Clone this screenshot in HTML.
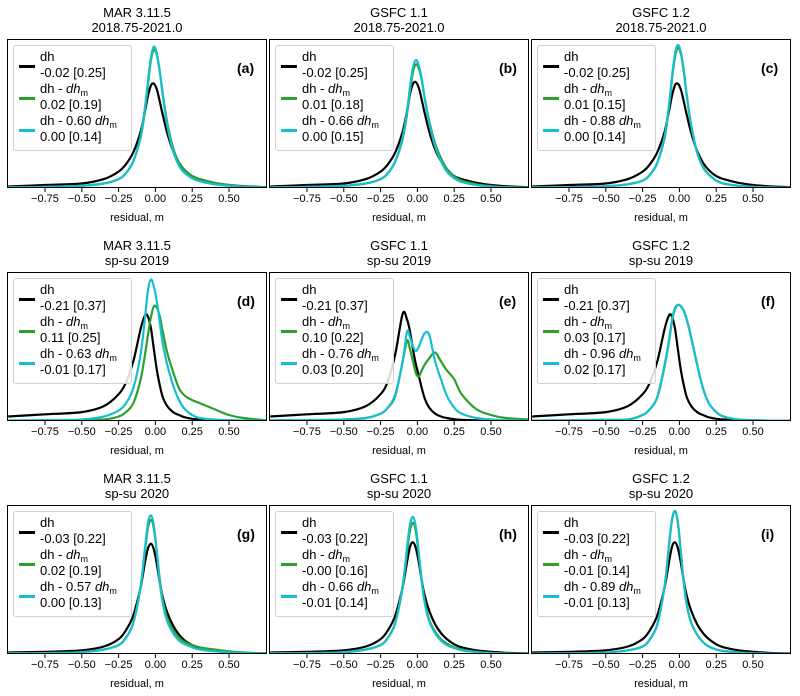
<!DOCTYPE html>
<html><head><meta charset="utf-8"><style>
body{margin:0;background:#fff;}
#wrap{position:relative;width:800px;height:696px;font-family:"Liberation Sans","DejaVu Sans",sans-serif;color:#000;overflow:hidden}
.t{position:absolute;font-size:13px;white-space:nowrap;text-align:center;transform:translateX(-50%)}
.tk{position:absolute;font-size:11px;white-space:nowrap;transform:translateX(-50%)}
.xl{position:absolute;font-size:11px;white-space:nowrap;transform:translateX(-50%)}
.lg{position:absolute;border:1px solid #d0d0d0;border-radius:3px;background:rgba(255,255,255,0.85);width:117px;height:104px}
.le{position:absolute;left:26px;font-size:13px;line-height:16px;white-space:nowrap}
.le sub{font-size:9px;line-height:0;vertical-align:-3px}
.ls{position:absolute;left:5px;width:16px;height:3px}
.pl{position:absolute;font-size:14px;font-weight:bold}
</style></head><body>
<div id="wrap">
<svg id="svg" width="800" height="696" style="position:absolute;left:0;top:0"></svg>
</div>
<script>
const X = [-1.0,-0.75,-0.5,-0.35,-0.25,-0.2,-0.15,-0.1,-0.07,-0.05,-0.03,-0.01,0.01,0.03,0.05,0.08,0.12,0.16,0.2,0.25,0.3,0.4,0.5,0.6,0.76];
const xTicks = [-0.75,-0.5,-0.25,0,0.25,0.5];
const xTickLabels = ["−0.75","−0.50","−0.25","0.00","0.25","0.50"];
const models = ["MAR 3.11.5","GSFC 1.1","GSFC 1.2"];
const periods = ["2018.75-2021.0","sp-su 2019","sp-su 2020"];
const panelLetters = ["(a)","(b)","(c)","(d)","(e)","(f)","(g)","(h)","(i)"];
const blackStats = ["-0.02 [0.25]","-0.02 [0.25]","-0.02 [0.25]","-0.21 [0.37]","-0.21 [0.37]","-0.21 [0.37]","-0.03 [0.22]","-0.03 [0.22]","-0.03 [0.22]"];
const greenStats = ["0.02 [0.19]","0.01 [0.18]","0.01 [0.15]","0.11 [0.25]","0.10 [0.22]","0.03 [0.17]","0.02 [0.19]","-0.00 [0.16]","-0.01 [0.14]"];
const cyanCoef = ["0.60","0.66","0.88","0.63","0.76","0.96","0.57","0.66","0.89"];
const cyanStats = ["0.00 [0.14]","0.00 [0.15]","0.00 [0.14]","-0.01 [0.17]","0.03 [0.20]","0.02 [0.17]","0.00 [0.13]","-0.01 [0.14]","-0.01 [0.13]"];

const blackA = [0.01,0.02,0.03,0.06,0.11,0.16,0.24,0.38,0.52,0.62,0.69,0.70,0.66,0.58,0.49,0.37,0.25,0.17,0.12,0.08,0.06,0.035,0.02,0.012,0.005];
const greenA = [0.005,0.008,0.015,0.03,0.06,0.10,0.18,0.34,0.53,0.70,0.86,0.93,0.89,0.78,0.63,0.44,0.27,0.17,0.12,0.08,0.06,0.035,0.02,0.01,0.004];
const cyanA = [0.005,0.008,0.015,0.03,0.06,0.10,0.18,0.35,0.55,0.72,0.88,0.95,0.90,0.78,0.62,0.42,0.25,0.15,0.10,0.065,0.045,0.025,0.015,0.008,0.003];
const blackB = [0.01,0.02,0.03,0.06,0.11,0.16,0.24,0.38,0.52,0.63,0.70,0.71,0.67,0.59,0.50,0.38,0.26,0.18,0.12,0.08,0.06,0.035,0.02,0.012,0.005];
const greenB = [0.005,0.008,0.015,0.03,0.06,0.10,0.18,0.33,0.50,0.65,0.78,0.83,0.80,0.72,0.60,0.45,0.30,0.20,0.13,0.08,0.05,0.025,0.012,0.006,0.003];
const cyanB = [0.005,0.008,0.015,0.03,0.06,0.10,0.18,0.34,0.52,0.68,0.81,0.86,0.82,0.73,0.60,0.44,0.28,0.18,0.11,0.065,0.04,0.02,0.01,0.005,0.002];
const blackC = [0.01,0.02,0.03,0.06,0.11,0.16,0.24,0.38,0.52,0.62,0.69,0.70,0.66,0.58,0.49,0.37,0.25,0.17,0.12,0.08,0.06,0.035,0.02,0.012,0.005];
const greenC = [0.004,0.006,0.012,0.025,0.05,0.09,0.17,0.34,0.55,0.73,0.88,0.94,0.90,0.78,0.62,0.42,0.24,0.14,0.09,0.05,0.03,0.015,0.008,0.004,0.002];
const cyanC = [0.004,0.006,0.012,0.025,0.05,0.09,0.17,0.35,0.56,0.75,0.90,0.96,0.91,0.79,0.62,0.42,0.24,0.14,0.09,0.05,0.03,0.015,0.008,0.004,0.002];
const blackD = [0.03,0.045,0.06,0.10,0.18,0.26,0.40,0.62,0.71,0.70,0.62,0.48,0.34,0.24,0.16,0.10,0.06,0.04,0.025,0.015,0.01,0.006,0.004,0.003,0.002];
const greenD = [0.002,0.003,0.005,0.01,0.03,0.06,0.12,0.28,0.45,0.58,0.70,0.77,0.76,0.70,0.60,0.46,0.33,0.22,0.17,0.14,0.12,0.08,0.04,0.02,0.005];
const cyanD = [0.005,0.006,0.01,0.03,0.07,0.12,0.22,0.45,0.70,0.88,0.95,0.90,0.80,0.66,0.52,0.38,0.24,0.14,0.08,0.04,0.02,0.01,0.005,0.003,0.002];
const blackE = [0.03,0.045,0.06,0.10,0.18,0.27,0.45,0.72,0.68,0.60,0.48,0.38,0.30,0.22,0.15,0.09,0.05,0.03,0.02,0.012,0.008,0.005,0.003,0.002,0.002];
const greenE = [0.004,0.006,0.01,0.02,0.05,0.09,0.17,0.40,0.54,0.48,0.40,0.32,0.30,0.34,0.38,0.42,0.46,0.40,0.34,0.28,0.18,0.08,0.04,0.02,0.01];
const cyanE = [0.004,0.006,0.01,0.02,0.05,0.09,0.18,0.40,0.60,0.56,0.50,0.47,0.50,0.55,0.59,0.58,0.40,0.28,0.17,0.09,0.05,0.02,0.01,0.005,0.003];
const blackF = [0.03,0.045,0.06,0.10,0.18,0.26,0.40,0.62,0.71,0.70,0.62,0.48,0.34,0.24,0.16,0.10,0.06,0.04,0.025,0.015,0.01,0.006,0.004,0.003,0.002];
const greenF = [0.003,0.005,0.008,0.01,0.04,0.08,0.16,0.37,0.54,0.67,0.75,0.78,0.77,0.74,0.68,0.56,0.38,0.22,0.12,0.06,0.03,0.01,0.005,0.003,0.002];
const cyanF = [0.003,0.005,0.008,0.01,0.04,0.08,0.16,0.38,0.55,0.68,0.76,0.78,0.77,0.74,0.68,0.56,0.38,0.22,0.12,0.06,0.03,0.01,0.005,0.003,0.002];
const blackG = [0.01,0.015,0.025,0.05,0.10,0.16,0.26,0.45,0.62,0.71,0.74,0.70,0.60,0.48,0.38,0.28,0.19,0.13,0.09,0.06,0.04,0.025,0.015,0.008,0.004];
const greenG = [0.004,0.006,0.012,0.03,0.06,0.11,0.21,0.45,0.70,0.85,0.90,0.84,0.68,0.50,0.36,0.24,0.16,0.11,0.08,0.06,0.045,0.03,0.018,0.01,0.004];
const cyanG = [0.004,0.006,0.012,0.03,0.06,0.11,0.21,0.46,0.72,0.88,0.93,0.86,0.68,0.48,0.34,0.22,0.14,0.09,0.065,0.045,0.03,0.018,0.01,0.006,0.003];
const blackH = [0.01,0.015,0.025,0.05,0.10,0.16,0.26,0.45,0.62,0.72,0.75,0.71,0.61,0.49,0.39,0.29,0.20,0.14,0.10,0.065,0.045,0.025,0.015,0.008,0.004];
const greenH = [0.004,0.006,0.012,0.03,0.06,0.11,0.21,0.45,0.69,0.83,0.88,0.82,0.66,0.49,0.35,0.23,0.15,0.10,0.07,0.045,0.03,0.015,0.008,0.004,0.002];
const cyanH = [0.004,0.006,0.012,0.03,0.06,0.11,0.21,0.46,0.72,0.87,0.92,0.85,0.67,0.48,0.34,0.22,0.14,0.09,0.06,0.04,0.025,0.012,0.006,0.003,0.002];
const blackI = [0.01,0.015,0.025,0.05,0.10,0.16,0.26,0.45,0.62,0.72,0.75,0.71,0.61,0.49,0.39,0.29,0.20,0.14,0.10,0.065,0.045,0.025,0.015,0.008,0.004];
const greenI = [0.003,0.005,0.01,0.025,0.05,0.10,0.20,0.46,0.74,0.90,0.96,0.88,0.68,0.48,0.33,0.21,0.13,0.08,0.05,0.03,0.02,0.01,0.005,0.003,0.002];
const cyanI = [0.003,0.005,0.01,0.025,0.05,0.10,0.20,0.46,0.74,0.90,0.96,0.88,0.68,0.48,0.33,0.21,0.13,0.08,0.05,0.03,0.02,0.01,0.005,0.003,0.002];

const blackSeries = [blackA,blackB,blackC,blackD,blackE,blackF,blackG,blackH,blackI];
const greenSeries = [greenA,greenB,greenC,greenD,greenE,greenF,greenG,greenH,greenI];
const cyanSeries = [cyanA,cyanB,cyanC,cyanD,cyanE,cyanF,cyanG,cyanH,cyanI];

const svg = document.getElementById('svg');
const wrap = document.getElementById('wrap');
const NS = 'http://www.w3.org/2000/svg';
const colLeft = [7,269,531], rowTop = [39,272,505], PW = 260, PH = 149;
const XMIN = -1.008, XMAX = 0.758;

function mk(tag, attrs){ const e=document.createElementNS(NS,tag); for(const k in attrs) e.setAttribute(k,attrs[k]); return e; }
function div(cls, html, left, top){ const d=document.createElement('div'); d.className=cls; d.innerHTML=html; d.style.left=left+'px'; d.style.top=top+'px'; wrap.appendChild(d); return d; }

function pathFrom(xs, ys){
  const P = xs.map((x,i)=>[x, ys[i]]);
  let d = 'M'+P[0][0].toFixed(1)+','+P[0][1].toFixed(1);
  for(let i=0;i<P.length-1;i++){
    const p0=P[Math.max(i-1,0)],p1=P[i],p2=P[i+1],p3=P[Math.min(i+2,P.length-1)];
    const c1x=p1[0]+(p2[0]-p0[0])/6, c1y=p1[1]+(p2[1]-p0[1])/6;
    const c2x=p2[0]-(p3[0]-p1[0])/6, c2y=p2[1]-(p3[1]-p1[1])/6;
    d+=' C'+c1x.toFixed(1)+','+c1y.toFixed(1)+' '+c2x.toFixed(1)+','+c2y.toFixed(1)+' '+p2[0].toFixed(1)+','+p2[1].toFixed(1);
  }
  return d;
}

for(let r=0;r<3;r++){
  for(let c=0;c<3;c++){
    const k=r*3+c, L=colLeft[c], T=rowTop[r];
    const xs = v => L + (v-XMIN)/(XMAX-XMIN)*PW;
    const ys = v => T + PH - v*PH;
    const title = div('t', models[c]+'<br>'+periods[r], L+PW/2, T-34);
    title.style.lineHeight='15px';
    
    
    const cp = mk('clipPath',{id:'cp'+k}); cp.appendChild(mk('rect',{x:L,y:T,width:PW,height:PH})); svg.appendChild(cp);
    const g = mk('g',{'clip-path':'url(#cp'+k+')'});
    
    
    svg.appendChild(g);
    const series=[[blackSeries[k],'#000000','black'],[greenSeries[k],'#2ca02c','green'],[cyanSeries[k],'#17becf','cyan']];
    series.forEach(s=>{
      const p = mk('path',{d:pathFrom(X.map(xs), s[0].map(ys)),fill:'none',stroke:s[1],'stroke-width':2.2,'stroke-linejoin':'round'});
      
      
      g.appendChild(p);
    });
    const frame = mk('rect',{x:L+0.5,y:T+0.5,width:PW-1,height:PH-1,fill:'none',stroke:'#000','stroke-width':1});
    
    
    svg.appendChild(frame);
    xTicks.forEach((t,i)=>{
      const x=xs(t);
      const tl = mk('line',{x1:x,x2:x,y1:T+PH,y2:T+PH+4,stroke:'#000','stroke-width':1});
      
      
      svg.appendChild(tl);
      const lab = div('tk', xTickLabels[i], x, T+PH+5);
      
      
    });
    const xl = div('xl','residual, m', L+PW/2, T+PH+24);
    
    
    const pl = div('pl', panelLetters[k], L+230, T+21);
    
    
    const lg = div('lg','', L+6, T+6);
    
    
    const entries=[['#000','dh',blackStats[k]],['#2ca02c','dh - <i>dh</i><sub>m</sub>',greenStats[k]],['#17becf','dh - '+cyanCoef[k]+' <i>dh</i><sub>m</sub>',cyanStats[k]]];
    entries.forEach((e,i)=>{
      const sw=document.createElement('div'); sw.className='ls'; sw.style.background=e[0]; sw.style.top=(19+i*32)+'px';
      
      
      lg.appendChild(sw);
      const tx=document.createElement('div'); tx.className='le'; tx.style.top=(3+i*32)+'px'; tx.innerHTML=e[1]+'<br>'+e[2];
      
      
      lg.appendChild(tx);
    });
  }
}
</script>
</body></html>
